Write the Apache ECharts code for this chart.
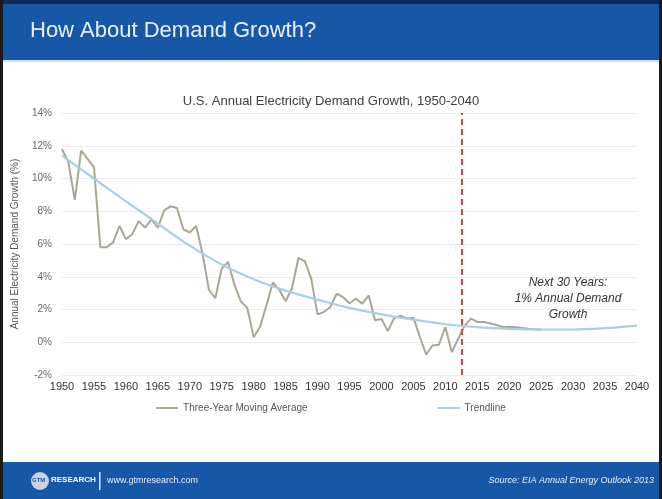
<!DOCTYPE html>
<html>
<head>
<meta charset="utf-8">
<script src="https://cdn.jsdelivr.net/npm/echarts@6/dist/echarts.min.js"></script>
<style>
html,body{margin:0;padding:0;background:#fff;}
#c{width:662px;height:499px;}
</style>
</head>
<body>
<div id="c"></div>
<script>
// Three-year moving average (%), by year
const maYears = [1950,1951,1952,1953,1954,1955,1956,1957,1958,1959,1960,1961,1962,1963,1964,1965,1966,1967,1968,1969,
  1970,1971,1972,1973,1974,1975,1976,1977,1978,1979,1980,1981,1982,1983,1984,1985,1986,1987,1988,1989,
  1990,1991,1992,1993,1994,1995,1996,1997,1998,1999,2000,2001,2002,2003,2004,2005,2006,2007,2008,2009,
  2010,2011,2012,2013,2014,2015,2016,2017,2018,2019,2020,2021,2022,2023,2024,2025];
const maValues = [11.8,11.0,8.7,11.7,11.2,10.7,5.8,5.8,6.1,7.1,6.3,6.6,7.4,7.0,7.5,7.0,8.05,8.3,8.2,6.9,
  6.7,7.1,5.4,3.2,2.7,4.5,4.9,3.5,2.5,2.1,0.3,0.95,2.25,3.65,3.2,2.5,3.3,5.15,4.95,3.9,
  1.7,1.85,2.15,2.97,2.75,2.38,2.66,2.36,2.85,1.34,1.42,0.68,1.48,1.62,1.44,1.5,0.35,-0.75,-0.2,-0.15,
  0.93,-0.6,0.2,1.0,1.44,1.24,1.24,1.16,1.05,0.93,0.95,0.92,0.87,0.82,0.79,0.77];
// Trendline (%), read at 5-year marks
const trendYears = [1950,1955,1960,1965,1970,1975,1980,1985,1990,1995,2000,2005,2010,2015,2020,2025,2030,2035,2040];
const trendValues = [11.4,10.0,8.6,7.25,5.9,4.75,3.85,3.15,2.6,2.1,1.7,1.38,1.1,0.92,0.82,0.78,0.78,0.86,1.02];
const forecastStart = 2012.5;
const yTicks = [-2,0,2,4,6,8,10,12,14];

const chart = echarts.init(document.getElementById('c'));
const font = 'Liberation Sans, Arial, sans-serif';
chart.setOption({
  animation: false,
  backgroundColor: '#ffffff',
  title: {
    text: 'U.S. Annual Electricity Demand Growth, 1950-2040',
    left: 'center', top: 90,
    textStyle: {fontFamily: font, fontSize: 13, fontWeight: 'normal', color: '#404040'}
  },
  legend: {
    top: 398, left: 'center', itemGap: 130, itemWidth: 22, itemHeight: 2,
    icon: 'rect',
    textStyle: {fontFamily: font, fontSize: 10, color: '#555'},
    data: ['Three-Year Moving Average', 'Trendline']
  },
  grid: {left: 62, right: 25, top: 113, bottom: 124, containLabel: false},
  xAxis: {
    type: 'value', min: 1950, max: 2040, interval: 5,
    axisLine: {show: false}, axisTick: {show: false},
    splitLine: {show: false},
    axisLabel: {formatter: v => String(v), fontFamily: font, fontSize: 11, color: '#333', margin: 6}
  },
  yAxis: {
    type: 'value', min: yTicks[0], max: yTicks[yTicks.length-1], interval: 2,
    name: 'Annual Electricity Demand Growth (%)',
    nameLocation: 'middle', nameGap: 42, nameRotate: 90,
    nameTextStyle: {fontFamily: font, fontSize: 10, color: '#555'},
    axisLine: {show: false}, axisTick: {show: false},
    splitLine: {lineStyle: {color: '#ececec', width: 1}},
    axisLabel: {formatter: '{value}%', fontFamily: font, fontSize: 10, color: '#666', margin: 10}
  },
  series: [
    {
      name: 'Three-Year Moving Average', type: 'line', symbol: 'none',
      lineStyle: {color: '#a8a796', width: 2}, itemStyle: {color: '#a8a796'},
      data: maYears.map((y, i) => [y, maValues[i]]),
      z: 2,
      markLine: {
        silent: true, symbol: 'none', label: {show: false},
        lineStyle: {color: '#c9494a', type: [6, 4], width: 2},
        data: [{xAxis: forecastStart}]
      }
    },
    {
      name: 'Trendline', type: 'line', symbol: 'none', smooth: 0.4,
      lineStyle: {color: '#aacfdf', width: 2.2}, itemStyle: {color: '#aacfdf'},
      data: trendYears.map((y, i) => [y, trendValues[i]]),
      z: 3
    }
  ],
  graphic: [
    {type: 'rect', shape: {x: 0, y: 0, width: 662, height: 60}, style: {fill: '#1657a7'}, z: 10},
    {type: 'rect', shape: {x: 0, y: 0, width: 662, height: 4}, style: {fill: '#0e2a5c'}, z: 11},
    {type: 'rect', shape: {x: 0, y: 60, width: 662, height: 2}, style: {fill: '#cfe0f2'}, z: 11},
    {type: 'text', left: 30, top: 20, style: {text: 'How About Demand Growth?', fill: '#e9f1ff', font: '22px ' + font}, z: 12},
    {type: 'text', x: 568, y: 275, style: {text: 'Next 30 Years:\n1% Annual Demand\nGrowth', fill: '#333', font: 'italic 12px ' + font, textAlign: 'center', lineHeight: 16}, z: 12},
    {type: 'rect', shape: {x: 0, y: 462, width: 662, height: 37}, style: {fill: '#1657a7'}, z: 10},
    {type: 'circle', shape: {cx: 40, cy: 481, r: 9}, style: {fill: '#c9d3df'}, z: 11},
    {type: 'text', left: 32, top: 477, style: {text: 'GTM', fill: '#1657a7', font: 'bold 6px ' + font}, z: 12},
    {type: 'text', left: 51, top: 476, style: {text: 'RESEARCH', fill: '#ffffff', font: 'bold 8px ' + font}, z: 12},
    {type: 'rect', shape: {x: 99, y: 472, width: 1.5, height: 18}, style: {fill: '#dfe8f5'}, z: 11},
    {type: 'text', left: 107, top: 476, style: {text: 'www.gtmresearch.com', fill: '#e6eefa', font: '9px ' + font}, z: 12},
    {type: 'text', right: 8, top: 476, style: {text: 'Source: EIA Annual Energy Outlook 2013', fill: '#e6eefa', font: 'italic 9px ' + font}, z: 12},
    {type: 'rect', shape: {x: 0, y: 0, width: 3, height: 499}, style: {fill: '#1a1a1a'}, z: 13},
    {type: 'rect', shape: {x: 659, y: 0, width: 3, height: 499}, style: {fill: '#1a1a1a'}, z: 13}
  ]
});
</script>
</body>
</html>
